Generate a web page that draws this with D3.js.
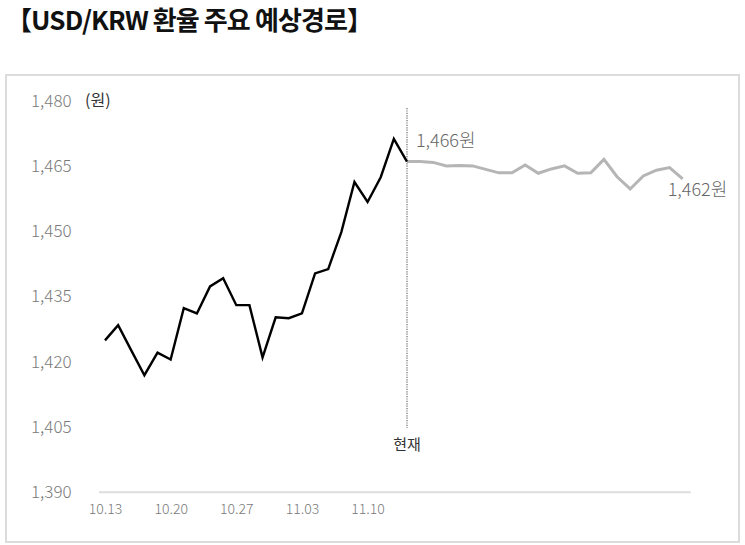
<!DOCTYPE html>
<html><head><meta charset="utf-8">
<script src="https://cdn.jsdelivr.net/npm/d3@7"></script>
<style>
html,body{margin:0;padding:0;background:#fff;}
svg{display:block;font-family:"Noto Sans CJK KR","Noto Sans",sans-serif;}
</style></head>
<body>
<svg id="c" width="745" height="545"></svg>
<script>
// ---- data ----
const tickLabels = ["10.13","10.20","10.27","11.03","11.10"];
const tickIndex = [0,5,10,15,20];
const yTicks = [1390,1405,1420,1435,1450,1465,1480];
const actual = [1424.9,1428.4,1422.6,1416.9,1422.1,1420.5,1432.3,1431.1,1437.3,1439.2,
  1433.0,1433.0,1421.0,1430.2,1430.0,1431.1,1440.3,1441.3,1449.8,1461.3,1456.7,1462.4,1471.2,1466.0];
const forecast = [1466.0,1466.0,1465.8,1465.0,1465.1,1465.0,1464.2,1463.4,1463.4,1465.2,1463.3,
  1464.3,1465.0,1463.3,1463.4,1466.5,1462.5,1459.7,1462.7,1464.0,1464.6,1462.0];
const title = "【USD/KRW 환율 주요 예상경로】";
const unitLabel = "(원)";
const nowLabel = "현재";
const startLabel = "1,466원";
const endLabel = "1,462원";

const svg = d3.select("#c");
const startIdx = actual.length - 1;
const nTotal = startIdx + forecast.length - 1;

const x = d3.scaleLinear().domain([0, nTotal]).range([105, 682.7]);
const y = d3.scaleLinear().domain([1390, 1480]).range([492.3, 100.6]);

// title
svg.append("text").attr("x", 6).attr("y", 30)
  .attr("font-size", 26).attr("font-weight", 700).attr("fill", "#111")
  .attr("letter-spacing", -0.9).text(title);

// frame
svg.append("rect").attr("x", 6).attr("y", 75).attr("width", 733).attr("height", 467)
  .attr("fill", "none").attr("stroke", "#dcdcdc").attr("stroke-width", 2);

// y axis
const yAxis = d3.axisLeft(y).tickValues(yTicks).tickSize(0).tickFormat(d3.format(","));
const gy = svg.append("g").attr("transform", "translate(31,0)").call(yAxis);
gy.select(".domain").remove();
gy.selectAll("text").attr("x", 0).attr("text-anchor", "start")
  .attr("font-size", 17).attr("font-weight", 300).attr("fill", "#7a7a7a")
  .attr("font-family", "'Noto Sans CJK KR', sans-serif");

svg.append("text").attr("x", 85).attr("y", y(1480)).attr("dy", "0.32em")
  .attr("font-size", 16).attr("fill", "#333").text(unitLabel);

// x baseline
svg.append("line").attr("x1", x(0) - 6).attr("x2", x(nTotal) + 8)
  .attr("y1", y(1390)).attr("y2", y(1390))
  .attr("stroke", "#dddddd").attr("stroke-width", 2);

// x axis
const xAxis = d3.axisBottom(x).tickValues(tickIndex).tickSize(0).tickPadding(12)
  .tickFormat((d, i) => tickLabels[i]);
const gx = svg.append("g").attr("transform", `translate(0,${y(1390)})`).call(xAxis);
gx.select(".domain").remove();
gx.selectAll("text").attr("font-size", 14).attr("font-weight", 300).attr("fill", "#7a7a7a")
  .attr("font-family", "'Noto Sans CJK KR', sans-serif");

// current vertical dotted line
svg.append("line").attr("x1", x(startIdx)).attr("x2", x(startIdx))
  .attr("y1", 108).attr("y2", 428)
  .attr("stroke", "#888").attr("stroke-width", 1.5).attr("stroke-dasharray", "1.2,1.2");

svg.append("text").attr("x", x(startIdx)).attr("y", 445).attr("dy", "0.35em")
  .attr("text-anchor", "middle").attr("font-size", 15).attr("fill", "#333").text(nowLabel);

// lines
const line = d3.line().x(d => x(d.i)).y(d => y(d.v));
const fData = forecast.map((v, k) => ({i: startIdx + k, v}));
const aData = actual.map((v, i) => ({i, v}));

svg.append("path").datum(fData).attr("d", line).attr("fill", "none")
  .attr("stroke", "#b5b5b5").attr("stroke-width", 3).attr("stroke-linejoin", "miter");
svg.append("path").datum(aData).attr("d", line).attr("fill", "none")
  .attr("stroke", "#000").attr("stroke-width", 2.4).attr("stroke-linejoin", "miter");

// labels
svg.append("text").attr("x", x(startIdx) + 9).attr("y", 141).attr("dy", "0.35em")
  .attr("font-size", 18).attr("font-weight", 300).attr("fill", "#666").text(startLabel);
svg.append("text").attr("x", x(nTotal) - 15).attr("y", 190).attr("dy", "0.35em")
  .attr("font-size", 18).attr("font-weight", 300).attr("fill", "#666").text(endLabel);
</script>
</body></html>
